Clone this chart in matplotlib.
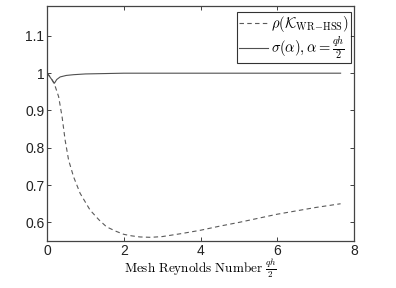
import matplotlib
matplotlib.use("Agg")
import matplotlib.pyplot as plt

plt.rcParams['mathtext.fontset'] = 'cm'
plt.rcParams['font.family'] = ['Liberation Sans', 'DejaVu Sans']

# dashed curve: spectral radius rho(K_WR-HSS)
rho_x = [0, 0.1, 0.2, 0.3, 0.39, 0.47, 0.56, 0.69, 0.86, 1.12, 1.35, 1.55,
         1.8, 2.0, 2.2, 2.42, 2.7, 3.0, 3.5, 4.0, 4.5, 5.0, 5.5, 6.0, 6.5, 7.0, 7.65]
rho_y = [1.0, 0.988, 0.968, 0.937, 0.883, 0.82, 0.767, 0.722, 0.678, 0.633, 0.607, 0.588,
         0.576, 0.568, 0.564, 0.561, 0.560, 0.562, 0.570, 0.579, 0.590, 0.600, 0.611, 0.622,
         0.631, 0.640, 0.650]

# solid curve: sigma(alpha), alpha = qh/2
sig_x = [0, 0.1, 0.19, 0.25, 0.34, 0.5, 0.69, 1.0, 1.5, 2.0, 3.0, 5.0, 7.65]
sig_y = [1.0, 0.986, 0.973, 0.983, 0.990, 0.994, 0.996, 0.998, 0.999, 1.0, 1.0, 1.0, 1.0]

xticks = [0, 2, 4, 6, 8]
yticks = [0.6, 0.7, 0.8, 0.9, 1.0, 1.1]
ytick_labels = ['0.6', '0.7', '0.8', '0.9', '1', '1.1']

fig = plt.figure(figsize=(3.96, 2.88), dpi=100)
ax = fig.add_axes([0.119, 0.163, 0.775, 0.816])

ax.plot(rho_x, rho_y, '--', color='#5a5a5a', lw=0.8, dashes=(4, 3),
        label=r'$\rho(\mathcal{K}_{\mathrm{WR\!-\!HSS}})$')
ax.plot(sig_x, sig_y, '-', color='#505050', lw=0.8,
        label=r'$\sigma(\alpha), \alpha=\frac{qh}{2}$')

ax.set_xlim(0, 8)
ax.set_ylim(0.55, 1.18)
ax.set_xticks(xticks)
ax.set_yticks(yticks)
ax.set_yticklabels(ytick_labels)
ax.tick_params(direction='in', length=3, width=0.6, top=True, right=True,
               labelsize=10, colors='#222222', pad=2)
for s in ax.spines.values():
    s.set_color('#444444')
    s.set_linewidth(0.9)

ax.set_xlabel(r'$\mathrm{Mesh\ Reynolds\ Number}\ \frac{qh}{2}$', fontsize=9.5, labelpad=-1)

leg = ax.legend(loc='upper right', bbox_to_anchor=(0.99, 0.975), fontsize=10.5,
                frameon=True, fancybox=False, edgecolor='black',
                handlelength=2.0, handletextpad=0.2, borderpad=0.15,
                labelspacing=0.02, borderaxespad=0.0)
leg.get_frame().set_linewidth(0.8)

fig.savefig('out.png', dpi=100)
